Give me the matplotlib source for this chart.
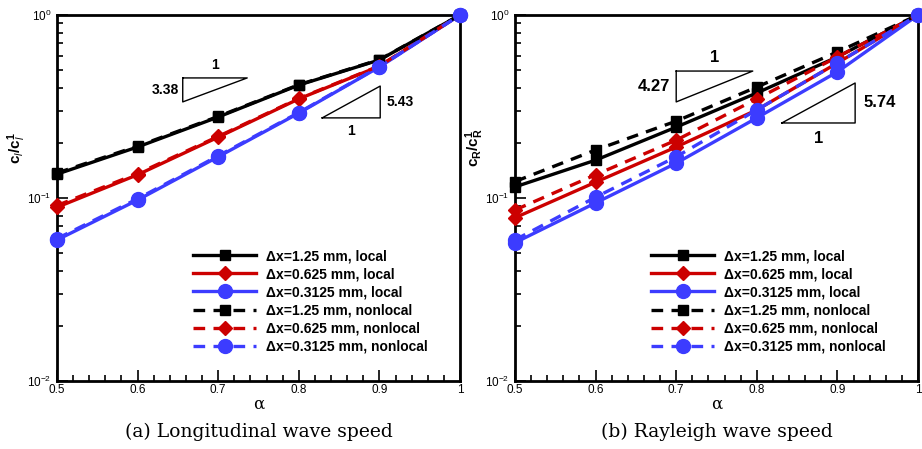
import matplotlib
matplotlib.use("Agg")
import matplotlib.pyplot as plt
from matplotlib.ticker import MultipleLocator, LogLocator, NullFormatter

plt.rcParams['font.family'] = ['Liberation Sans', 'DejaVu Sans']
plt.rcParams['mathtext.fontset'] = 'custom'
plt.rcParams['mathtext.rm'] = 'Liberation Sans'
plt.rcParams['mathtext.it'] = 'Liberation Sans:italic'
plt.rcParams['mathtext.bf'] = 'Liberation Sans:bold'

alpha = [0.5, 0.6, 0.7, 0.8, 0.9, 1.0]

# (a) longitudinal wave speed
long_local_125 = [0.135, 0.190, 0.277, 0.414, 0.568, 1.0]
long_local_0625 = [0.089, 0.134, 0.215, 0.348, 0.525, 1.0]
long_local_03125 = [0.059, 0.0975, 0.168, 0.291, 0.520, 1.0]
long_nonlocal_125 = [0.137, 0.192, 0.279, 0.416, 0.570, 1.0]
long_nonlocal_0625 = [0.091, 0.136, 0.217, 0.350, 0.527, 1.0]
long_nonlocal_03125 = [0.060, 0.099, 0.170, 0.293, 0.522, 1.0]

# (b) Rayleigh wave speed
ray_local_125 = [0.115, 0.161, 0.244, 0.375, 0.590, 1.0]
ray_local_0625 = [0.078, 0.122, 0.190, 0.303, 0.547, 1.0]
ray_local_03125 = [0.057, 0.094, 0.155, 0.274, 0.489, 1.0]
ray_nonlocal_125 = [0.123, 0.183, 0.263, 0.404, 0.628, 1.0]
ray_nonlocal_0625 = [0.086, 0.134, 0.207, 0.348, 0.590, 1.0]
ray_nonlocal_03125 = [0.059, 0.101, 0.168, 0.303, 0.547, 1.0]

labels = ["\u0394x=1.25 mm, local", "\u0394x=0.625 mm, local", "\u0394x=0.3125 mm, local",
          "\u0394x=1.25 mm, nonlocal", "\u0394x=0.625 mm, nonlocal", "\u0394x=0.3125 mm, nonlocal"]
colors = ["black", "#cc0000", "#3c3cff"]
markers = ["s", "D", "o"]
msizes = [7, 7, 10]

# slope triangles: (x0, x1, ylow, yhigh)
tri_a1 = (0.656, 0.736, 0.335, 0.453)
tri_a2 = (0.829, 0.901, 0.274, 0.409)
tri_b1 = (0.700, 0.795, 0.335, 0.494)
tri_b2 = (0.831, 0.922, 0.257, 0.425)

fig = plt.figure(figsize=(9.22, 4.49), dpi=100)
axa = fig.add_axes([57/922, 1-381/449, 403/922, 366/449])
axb = fig.add_axes([515/922, 1-381/449, 403/922, 366/449])


def draw(ax, local, nonlocal_, ylab, caption):
    for i in range(3):
        ax.plot(alpha, local[i], '-', color=colors[i], marker=markers[i], ms=msizes[i],
                lw=2.4, label=labels[i], clip_on=False, zorder=3)
    for i in range(3):
        ax.plot(alpha, nonlocal_[i], '--', color=colors[i], marker=markers[i], ms=msizes[i],
                lw=2.4, dashes=(3.5, 2.5), label=labels[i + 3], clip_on=False, zorder=3)
    ax.set_yscale('log')
    ax.set_xlim(0.5, 1.0)
    ax.set_ylim(0.01, 1.0)
    ax.xaxis.set_minor_locator(MultipleLocator(0.02))
    ax.set_xticks([0.5, 0.6, 0.7, 0.8, 0.9, 1.0])
    ax.set_xticklabels(["0.5", "0.6", "0.7", "0.8", "0.9", "1"])
    ax.set_yticks([0.01, 0.1, 1.0])
    ax.set_yticklabels([r"$10^{-2}$", r"$10^{-1}$", r"$10^{0}$"])
    ax.yaxis.set_minor_locator(LogLocator(base=10, subs=range(2, 10)))
    ax.yaxis.set_minor_formatter(NullFormatter())
    ax.tick_params(which='both', direction='in', top=False, right=False, width=1.2,
                   labelsize=8.5)
    ax.tick_params(axis='x', pad=2)
    ax.tick_params(axis='y', pad=4)
    ax.tick_params(which='major', length=8)
    ax.tick_params(which='minor', length=4)
    for s in ax.spines.values():
        s.set_linewidth(2)
    ax.set_xlabel("\u03b1", fontsize=12, labelpad=0, family='DejaVu Serif')
    ax.set_ylabel(ylab, fontsize=11)
    ax.yaxis.set_label_coords(-0.071, 0.637)
    ax.legend(loc='lower right', bbox_to_anchor=(0.95, 0.04), frameon=False,
              prop={'weight': 'bold', 'size': 10}, handlelength=4.5,
              labelspacing=0.3, handletextpad=0.7, numpoints=1)
    ax.text(0.5, -0.139, caption, transform=ax.transAxes, ha='center', va='center',
            fontsize=13.5, family='DejaVu Serif')


def triangle(ax, t, left_vertical):
    x0, x1, ylo, yhi = t
    if left_vertical:
        xs = [x0, x1, x0, x0]
        ys = [yhi, yhi, ylo, yhi]
    else:
        xs = [x0, x1, x1, x0]
        ys = [ylo, ylo, yhi, ylo]
    ax.plot(xs, ys, color='black', lw=1, zorder=4)


draw(axa, [long_local_125, long_local_0625, long_local_03125],
     [long_nonlocal_125, long_nonlocal_0625, long_nonlocal_03125],
     r"$\mathbf{c_{\mathit{l}}/c_{\mathit{l}}^{1}}$", "(a) Longitudinal wave speed")
draw(axb, [ray_local_125, ray_local_0625, ray_local_03125],
     [ray_nonlocal_125, ray_nonlocal_0625, ray_nonlocal_03125],
     r"$\mathbf{c_R/c_R^{1}}$", "(b) Rayleigh wave speed")

triangle(axa, tri_a1, True)
triangle(axa, tri_a2, False)
triangle(axb, tri_b1, True)
triangle(axb, tri_b2, False)

axa.text((tri_a1[0] + tri_a1[1]) / 2, tri_a1[3] * 1.08, "1", ha='center', va='bottom',
         fontsize=10, weight='bold')
axa.text(tri_a1[0] - 0.005, (tri_a1[2] * tri_a1[3]) ** 0.5, "3.38", ha='right', va='center',
         fontsize=10, weight='bold')
axa.text(tri_a2[1] + 0.008, (tri_a2[2] * tri_a2[3]) ** 0.5, "5.43", ha='left', va='center',
         fontsize=10, weight='bold')
axa.text((tri_a2[0] + tri_a2[1]) / 2, tri_a2[2] * 0.93, "1", ha='center', va='top',
         fontsize=10, weight='bold')

axb.text((tri_b1[0] + tri_b1[1]) / 2, tri_b1[3] * 1.08, "1", ha='center', va='bottom',
         fontsize=12, weight='bold')
axb.text(tri_b1[0] - 0.008, (tri_b1[2] * tri_b1[3]) ** 0.5, "4.27", ha='right', va='center',
         fontsize=12, weight='bold')
axb.text(tri_b2[1] + 0.01, (tri_b2[2] * tri_b2[3]) ** 0.5, "5.74", ha='left', va='center',
         fontsize=12, weight='bold')
axb.text((tri_b2[0] + tri_b2[1]) / 2, tri_b2[2] * 0.9, "1", ha='center', va='top',
         fontsize=12, weight='bold')

fig.savefig("out.png", dpi=100)
